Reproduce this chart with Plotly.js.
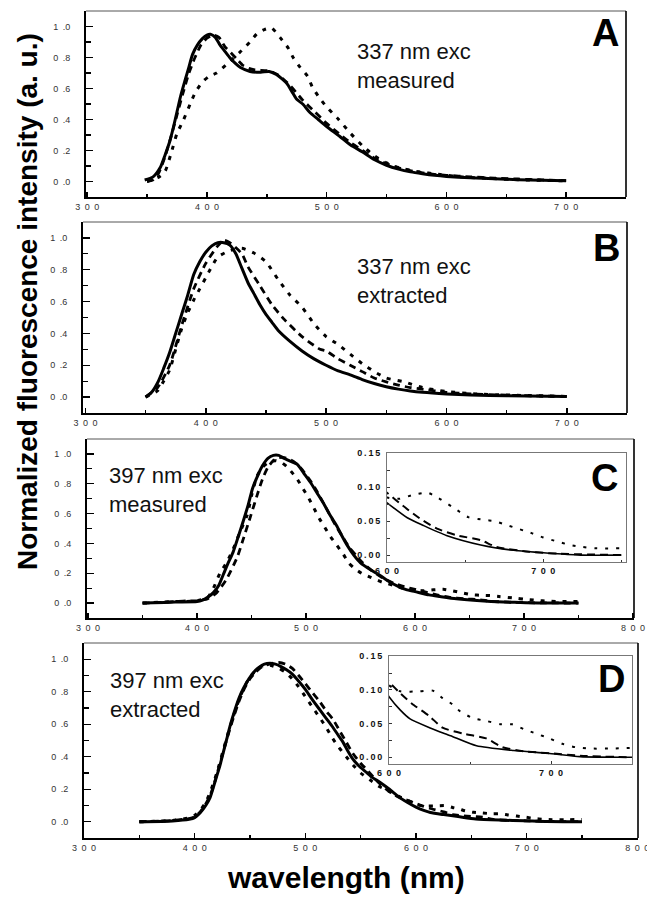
<!DOCTYPE html>
<html>
<head>
<meta charset="utf-8">
<script src="https://cdn.plot.ly/plotly-3.0.1.min.js"></script>
<style>html,body{margin:0;padding:0;background:#fff;}#plot{width:647px;height:904px;}</style>
</head>
<body>
<div id="plot"></div>
<script>
// ---------- Panel A: 337 nm exc, measured ----------
const lamA_solid = [348,355,361,365,369,372,375,378,382,385,388,392,396,400,403,407,411,415,419,424,428,436,445,452,458,463,467,471,475,480,486,493,500,511,520,530,540,550,560,570,580,590,600,620,640,660,680,700];
const valA_solid = [0.01,0.03,0.09,0.17,0.26,0.35,0.45,0.55,0.66,0.74,0.82,0.88,0.92,0.945,0.95,0.93,0.88,0.84,0.80,0.76,0.735,0.71,0.705,0.71,0.69,0.66,0.63,0.58,0.53,0.50,0.445,0.40,0.355,0.29,0.235,0.19,0.14,0.105,0.08,0.062,0.05,0.04,0.033,0.024,0.017,0.012,0.008,0.005];
const lamA_dash = [350,355,360,365,370,375,380,385,390,395,400,405,410,415,420,425,430,435,440,450,455,460,470,480,490,500,510,520,530,540,550,560,570,580,590,600,620,640,660,680,700];
const valA_dash = [0.0,0.01,0.06,0.16,0.29,0.43,0.57,0.70,0.80,0.88,0.925,0.945,0.93,0.87,0.83,0.79,0.75,0.73,0.72,0.715,0.705,0.685,0.615,0.525,0.45,0.375,0.31,0.25,0.20,0.15,0.115,0.088,0.07,0.056,0.046,0.04,0.03,0.022,0.016,0.01,0.006];
const lamA_dot = [350,360,365,370,375,380,386,390,396,402,408,417,427,436,442,448,454,461,468,472,478,484,488,493,499,505,510,520,530,540,550,560,575,595,615,635,655,675,700];
const valA_dot = [0.0,0.03,0.065,0.18,0.31,0.39,0.50,0.57,0.64,0.68,0.70,0.76,0.83,0.90,0.955,0.98,0.99,0.93,0.86,0.80,0.735,0.68,0.61,0.55,0.49,0.44,0.40,0.31,0.23,0.165,0.12,0.09,0.065,0.045,0.028,0.02,0.013,0.008,0.004];

// ---------- Panel B: 337 nm exc, extracted ----------
const lamB_solid = [350,355,360,365,370,375,380,385,390,395,400,405,410,415,420,425,430,435,440,445,450,455,460,470,480,490,500,510,520,530,540,550,560,570,580,600,620,650,700];
const valB_solid = [0.0,0.03,0.09,0.18,0.28,0.40,0.52,0.64,0.77,0.85,0.91,0.95,0.97,0.97,0.955,0.90,0.81,0.72,0.65,0.58,0.52,0.47,0.42,0.35,0.29,0.24,0.20,0.165,0.14,0.11,0.085,0.065,0.05,0.038,0.03,0.02,0.013,0.008,0.003];
const lamB_dash = [350,360,370,380,390,400,410,415,420,430,435,445,455,465,480,495,500,510,520,530,540,550,560,570,580,600,620,650,700];
const valB_dash = [0.0,0.06,0.20,0.45,0.68,0.84,0.95,0.985,0.97,0.90,0.82,0.70,0.58,0.49,0.38,0.30,0.29,0.24,0.20,0.16,0.12,0.095,0.075,0.06,0.05,0.03,0.02,0.012,0.004];
const lamB_dot = [350,360,365,370,375,380,385,390,395,400,405,410,420,430,440,450,460,470,480,490,500,510,520,530,540,550,565,580,600,625,650,700];
const valB_dot = [0.0,0.04,0.10,0.17,0.30,0.43,0.53,0.61,0.68,0.75,0.82,0.88,0.92,0.935,0.905,0.85,0.74,0.64,0.565,0.46,0.38,0.33,0.27,0.21,0.16,0.12,0.095,0.06,0.035,0.02,0.013,0.004];

// ---------- Panel C: 397 nm exc, measured ----------
const lamC_solid = [350,360,380,400,405,410,415,420,424,428,433,438,442,447,451,456,460,465,470,475,480,486,492,498,504,510,516,522,528,533,538,544,550,560,568,575,585,592,600,613,623,638,660,681,702,724,750];
const valC_solid = [0.0,0.002,0.007,0.01,0.02,0.04,0.07,0.12,0.19,0.26,0.34,0.45,0.54,0.66,0.77,0.86,0.92,0.97,0.99,0.99,0.97,0.95,0.93,0.87,0.81,0.74,0.67,0.59,0.52,0.45,0.385,0.32,0.27,0.22,0.185,0.15,0.11,0.09,0.077,0.055,0.044,0.029,0.015,0.007,0.003,0.0,0.0];
const lamC_dash = [350,370,380,390,400,410,418,427,437,442,449,455,460,465,470,475,480,486,492,498,504,510,516,522,528,534,540,546,552,560,570,580,590,600,610,621,632,645,660,670,691,710,750];
const valC_dash = [0.0,0.005,0.01,0.015,0.015,0.03,0.07,0.16,0.31,0.42,0.58,0.72,0.83,0.91,0.955,0.975,0.975,0.96,0.93,0.88,0.82,0.75,0.67,0.59,0.51,0.44,0.37,0.32,0.27,0.22,0.17,0.135,0.11,0.092,0.073,0.054,0.039,0.029,0.022,0.012,0.005,0.002,0.0];
const lamC_dot = [350,380,400,410,415,421,427,433,439,446,450,455,460,465,472,478,483,492,497,502,507,512,517,522,528,534,539,545,551,560,570,580,590,600,608,617,626,633,645,652,662,669,677,693,700,709,717,725,733,750];
const valC_dot = [0.0,0.01,0.015,0.04,0.10,0.20,0.27,0.36,0.47,0.59,0.72,0.85,0.91,0.94,0.955,0.94,0.91,0.83,0.77,0.71,0.64,0.57,0.51,0.45,0.39,0.33,0.27,0.23,0.20,0.17,0.14,0.12,0.097,0.085,0.083,0.089,0.092,0.084,0.066,0.056,0.052,0.05,0.044,0.032,0.026,0.02,0.015,0.012,0.01,0.01];

// ---------- Panel D: 397 nm exc, extracted ----------
const lamD_solid = [350,380,395,400,405,410,414,419,423,426,429,432,436,440,444,449,454,458,463,468,473,478,483,488,494,500,506,513,519,525,530,534,538,543,549,555,561,567,576,585,592,600,607,613,625,638,654,677,698,718,750];
const valD_solid = [0.0,0.005,0.015,0.025,0.055,0.10,0.15,0.26,0.35,0.43,0.51,0.59,0.68,0.76,0.82,0.88,0.925,0.95,0.97,0.975,0.97,0.955,0.935,0.91,0.865,0.815,0.755,0.69,0.635,0.58,0.53,0.49,0.44,0.385,0.34,0.305,0.27,0.245,0.20,0.15,0.12,0.09,0.07,0.057,0.044,0.032,0.017,0.010,0.006,0.001,0.0];
const lamD_dash = [350,380,395,400,405,410,415,420,425,430,435,440,445,450,455,460,465,470,476,482,488,494,500,507,513,519,525,531,537,543,550,557,565,575,585,593,600,607,614,625,633,646,660,670,683,699,720,750];
const valD_dash = [0.0,0.008,0.02,0.03,0.06,0.11,0.18,0.29,0.41,0.53,0.64,0.74,0.82,0.88,0.92,0.95,0.965,0.975,0.98,0.97,0.945,0.90,0.85,0.79,0.74,0.68,0.63,0.56,0.49,0.42,0.36,0.31,0.25,0.19,0.15,0.13,0.112,0.095,0.08,0.061,0.044,0.035,0.028,0.015,0.009,0.006,0.002,0.0];
const lamD_dot = [350,380,395,400,405,410,415,420,425,430,435,440,445,450,455,460,465,470,476,482,488,494,500,506,512,518,524,530,537,543,550,558,566,575,585,593,600,607,619,627,633,639,644,652,660,669,676,683,691,699,707,715,723,738,750];
const valD_dot = [0.0,0.008,0.025,0.04,0.07,0.12,0.20,0.30,0.42,0.54,0.65,0.75,0.83,0.89,0.93,0.955,0.965,0.96,0.945,0.92,0.88,0.83,0.77,0.71,0.65,0.59,0.52,0.46,0.40,0.35,0.30,0.26,0.22,0.19,0.155,0.13,0.107,0.098,0.098,0.099,0.088,0.079,0.068,0.058,0.054,0.049,0.049,0.042,0.035,0.028,0.02,0.015,0.013,0.013,0.014];

// ---------- tick labels ----------
const xTicksAB = [300,400,500,600,700];
const xTicksCD = [300,400,500,600,700,800];
const yTicksMain = [0.0,0.2,0.4,0.6,0.8,1.0];
const xTicksInset = [600,700];
const yTicksInset = [0.00,0.05,0.10,0.15];

const panelTexts = ["337 nm exc<br>measured","337 nm exc<br>extracted","397 nm exc<br>measured","397 nm exc<br>extracted"];
const panelLetters = ["A","B","C","D"];

// ---------- build ----------
const W = 647, H = 904;
const px = v => v / W;
const py = v => 1 - v / H;
const spaced = (s, sp) => s.split('').join(sp);
const xtt = arr => arr.map(v => spaced(String(v), '\u2002'));
const ytt = arr => arr.map(v => v.toFixed(1).replace('.', '\u2002.'));

const solidStyle = {color:'#000', width:3, shape:'spline', smoothing:0.6};
const dashStyle = {color:'#000', width:2.8, dash:'7px,5px', shape:'spline', smoothing:0.6};
const dotStyle = {color:'#000', width:3, dash:'4px,7px', shape:'spline', smoothing:0.6};
const solidIn = {color:'#000', width:1.6, shape:'spline', smoothing:0.6};
const dashIn = {color:'#000', width:2, dash:'8px,5px', shape:'spline', smoothing:0.6};
const dotIn = {color:'#000', width:2, dash:'3px,8px', shape:'spline', smoothing:0.6};

const series = [
  [lamA_solid,valA_solid,lamA_dash,valA_dash,lamA_dot,valA_dot],
  [lamB_solid,valB_solid,lamB_dash,valB_dash,lamB_dot,valB_dot],
  [lamC_solid,valC_solid,lamC_dash,valC_dash,lamC_dot,valC_dot],
  [lamD_solid,valD_solid,lamD_dash,valD_dash,lamD_dot,valD_dot]
];

const traces = [];
const axN = ['', '2', '3', '4'];
series.forEach((s, i) => {
  const xa = 'x' + axN[i], ya = 'y' + axN[i];
  traces.push({x:s[4], y:s[5], mode:'lines', line:dotStyle, xaxis:xa, yaxis:ya, hoverinfo:'skip'});
  traces.push({x:s[2], y:s[3], mode:'lines', line:dashStyle, xaxis:xa, yaxis:ya, hoverinfo:'skip'});
  traces.push({x:s[0], y:s[1], mode:'lines', line:solidStyle, xaxis:xa, yaxis:ya, hoverinfo:'skip'});
});
// insets (C -> x5/y5, D -> x6/y6)
[[2,'5'],[3,'6']].forEach(([i, n]) => {
  const s = series[i];
  traces.push({x:s[4], y:s[5], mode:'lines', line:dotIn, xaxis:'x'+n, yaxis:'y'+n, hoverinfo:'skip'});
  traces.push({x:s[2], y:s[3], mode:'lines', line:dashIn, xaxis:'x'+n, yaxis:'y'+n, hoverinfo:'skip'});
  traces.push({x:s[0], y:s[1], mode:'lines', line:solidIn, xaxis:'x'+n, yaxis:'y'+n, hoverinfo:'skip'});
});

const tickFont = {family:'Liberation Sans, Arial, sans-serif', size:9, color:'#333'};
const tickFontB = {family:'Liberation Sans, Arial, sans-serif', size:9, color:'#111', weight:'bold'};

function mainX(domain, range, tv, anchor) {
  const minorVals = [];
  for (let v = 350; v < range[1]; v += 100) minorVals.push(v);
  return {domain, range, anchor, tickmode:'array', tickvals:tv, ticktext:xtt(tv), ticklabeloverflow:'allow',
    ticks:'inside', ticklen:5, tickwidth:1.5, tickcolor:'#000', tickfont:tickFont,
    minor:{tickmode:'array', tickvals:minorVals, ticks:'inside', ticklen:3, tickwidth:1.5, tickcolor:'#000'},
    showline:true, linewidth:2, linecolor:'#000', mirror:false, showgrid:false, zeroline:false, fixedrange:true};
}
function mainY(domain, anchor) {
  return {domain, range:[-0.1,1.1], anchor, tickmode:'array', tickvals:yTicksMain, ticktext:ytt(yTicksMain),
    ticks:'inside', ticklen:7, tickwidth:1.2, tickcolor:'#000', tickfont:tickFont, ticklabelstandoff:12,
    minor:{tickmode:'array', tickvals:[0.1,0.3,0.5,0.7,0.9], ticks:'inside', ticklen:5, tickwidth:1.2, tickcolor:'#000'},
    showline:true, linewidth:2, linecolor:'#000', mirror:false, showgrid:false, zeroline:false, fixedrange:true};
}
function insetX(domain, range, anchor) {
  return {domain, range, anchor, tickmode:'array', tickvals:xTicksInset, ticktext:xtt(xTicksInset),
    ticks:'inside', ticklen:3, tickwidth:1, tickcolor:'#333', tickfont:tickFontB,
    minor:{tickmode:'array', tickvals:[650,750], ticks:'inside', ticklen:2, tickcolor:'#333'},
    showline:true, linewidth:1, linecolor:'#777', mirror:true, showgrid:false, zeroline:false, fixedrange:true};
}
function insetY(domain, range, anchor) {
  return {domain, range, anchor, tickmode:'array', tickvals:yTicksInset,
    ticktext:yTicksInset.map(v => spaced(v.toFixed(2), '\u2009')),
    ticks:'inside', ticklen:3, tickwidth:1, tickcolor:'#333', tickfont:tickFontB, ticklabelstandoff:4,
    minor:{tickmode:'array', tickvals:[0.025,0.075,0.125], ticks:'inside', ticklen:3, tickcolor:'#333'},
    showline:true, linewidth:1, linecolor:'#777', mirror:true, showgrid:false, zeroline:false, fixedrange:true};
}

const layout = {
  width:W, height:H, margin:{l:0,r:0,t:0,b:0}, showlegend:false,
  paper_bgcolor:'#fff', plot_bgcolor:'#fff',
  font:{family:'Liberation Sans, Arial, sans-serif', color:'#000'},
  xaxis: mainX([px(86),px(626)],[299,750],xTicksAB,'y'),
  yaxis: mainY([py(197),py(11)],'x'),
  xaxis2: mainX([px(83),px(627)],[298,750],xTicksAB,'y2'),
  yaxis2: mainY([py(413),py(222)],'x2'),
  xaxis3: mainX([px(87),px(634)],[299,801],xTicksCD,'y3'),
  yaxis3: mainY([py(618),py(439)],'x3'),
  xaxis4: mainX([px(84),px(638)],[300,800.6],xTicksCD,'y4'),
  yaxis4: mainY([py(838),py(643)],'x4'),
  xaxis5: insetX([px(387),px(626)],[600,753],'y5'),
  yaxis5: insetY([py(562),py(453)],[-0.0102,0.1505],'x5'),
  xaxis6: insetX([px(389),px(632)],[600,750],'y6'),
  yaxis6: insetY([py(764),py(656)],[-0.01,0.1505],'x6'),
  shapes:[], annotations:[]
};

['', '2', '3', '4'].forEach(n => {
  layout.shapes.push({type:'line', xref:'x'+n+' domain', yref:'y'+n+' domain', x0:0, x1:1, y0:1, y1:1, line:{color:'#555', width:1}, layer:'above'});
  layout.shapes.push({type:'line', xref:'x'+n+' domain', yref:'y'+n+' domain', x0:1, x1:1, y0:0, y1:1, line:{color:'#000', width:1.6}, layer:'above'});
});

const textPos = [[355,66],[355,281],[107,490],[108,695]];
panelTexts.forEach((t, i) => {
  layout.annotations.push({text:t, xref:'paper', yref:'paper', x:px(textPos[i][0]), y:py(textPos[i][1]),
    xanchor:'left', yanchor:'middle', align:'left', showarrow:false,
    font:{family:'Liberation Sans, Arial, sans-serif', size:22, color:'#111'}});
});
const letterPos = [[605,33],[606,248],[604,478],[611,679]];
panelLetters.forEach((t, i) => {
  layout.annotations.push({text:'<b>'+t+'</b>', xref:'paper', yref:'paper', x:px(letterPos[i][0]), y:py(letterPos[i][1]),
    xanchor:'center', yanchor:'middle', showarrow:false,
    font:{family:'Liberation Sans, Arial, sans-serif', size:38, color:'#000'}});
});
layout.annotations.push({text:'<b>Normalized fluorescence intensity (a. u.)</b>', xref:'paper', yref:'paper',
  x:px(27), y:py(302), xanchor:'center', yanchor:'middle', textangle:-90, showarrow:false,
  font:{family:'Liberation Sans, Arial, sans-serif', size:28, color:'#000'}});
layout.annotations.push({text:'<b>wavelength (nm)</b>', xref:'paper', yref:'paper',
  x:px(346), y:py(877), xanchor:'center', yanchor:'middle', showarrow:false,
  font:{family:'Liberation Sans, Arial, sans-serif', size:30, color:'#000'}});

Plotly.newPlot('plot', traces, layout, {staticPlot:true, displayModeBar:false});
</script>
</body>
</html>
